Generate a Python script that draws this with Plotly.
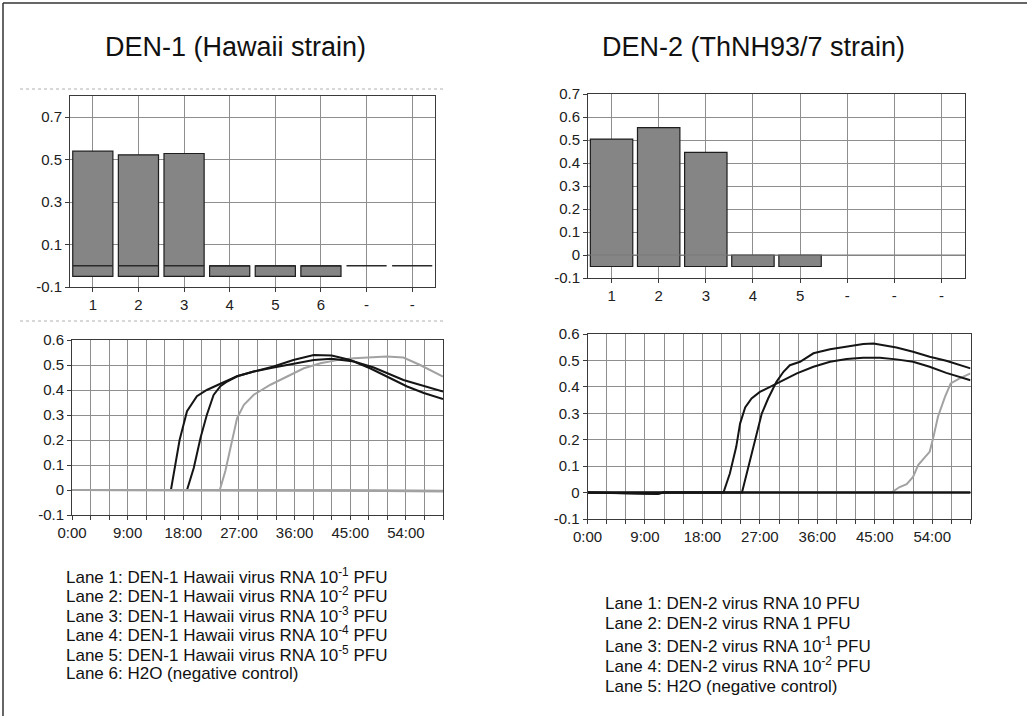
import plotly.graph_objects as go

W, H = 1027, 716
FONT = "Liberation Sans, Arial, sans-serif"


def fx(px):
    return px / W


def fy(py):
    return 1 - py / H


# ---------------- data ----------------
TITLE_1 = "DEN-1 (Hawaii strain)"
TITLE_2 = "DEN-2 (ThNH93/7 strain)"

BAR_LANES_1 = ["1", "2", "3", "4", "5", "6", "-", "-"]
BAR_VALUES_1 = [0.54, 0.523, 0.529, 0.0, 0.0, 0.0, None, None]
BAR_LANES_2 = ["1", "2", "3", "4", "5", "-", "-", "-"]
BAR_VALUES_2 = [0.504, 0.554, 0.446, 0.0, 0.0, None, None, None]
BAR_BASE = -0.05

BAR1_YTICKS = [-0.1, 0.1, 0.3, 0.5, 0.7]
BAR2_YTICKS = [-0.1, 0.0, 0.1, 0.2, 0.3, 0.4, 0.5, 0.6, 0.7]
LINE_YTICKS = [-0.1, 0.0, 0.1, 0.2, 0.3, 0.4, 0.5, 0.6]
TIME_TICKS = [0, 9, 18, 27, 36, 45, 54]
TIME_LABELS = ["0:00", "9:00", "18:00", "27:00", "36:00", "45:00", "54:00"]

# DEN-1 amplification curves (time, value)
D1_L1_T = [0, 16.0, 17.4, 18.6, 20.2, 21.8, 24.0, 26.7, 29.4, 32.6, 35.8, 39.1, 42.0, 45.0, 48.2, 50.9, 54.2, 56.9, 60]
D1_L1_V = [0, 0, 0.2, 0.315, 0.375, 0.40, 0.425, 0.455, 0.474, 0.494, 0.52, 0.54, 0.538, 0.52, 0.487, 0.454, 0.414, 0.388, 0.364]
D1_L2_T = [0, 18.6, 19.7, 20.8, 21.8, 22.9, 24.0, 25.1, 26.7, 29.4, 32.6, 35.8, 39.1, 42.0, 45.6, 48.8, 53.6, 60]
D1_L2_V = [0, 0, 0.089, 0.21, 0.30, 0.38, 0.415, 0.434, 0.455, 0.474, 0.49, 0.505, 0.52, 0.525, 0.514, 0.49, 0.44, 0.394]
D1_L3_T = [0, 23.9, 24.8, 25.9, 26.7, 27.8, 29.4, 32.1, 34.8, 37.5, 40.2, 42.9, 45.6, 48.2, 50.9, 53.6, 56.3, 60]
D1_L3_V = [0, 0, 0.076, 0.195, 0.288, 0.341, 0.381, 0.421, 0.454, 0.487, 0.507, 0.52, 0.527, 0.53, 0.534, 0.53, 0.50, 0.454]
D1_FLAT_T = [0, 30, 45, 60]
D1_L4_V = [0, 0, -0.002, -0.004]
D1_L5_V = [0, 0, -0.003, -0.006]
D1_L6_V = [0, 0.001, -0.001, -0.003]

# DEN-2 amplification curves
D2_L1_T = [0, 21.3, 22.3, 23.3, 23.9, 24.7, 25.7, 27.0, 28.6, 30.2, 32.8, 35.4, 38.0, 40.6, 43.2, 45.8, 48.4, 51.0, 53.6, 56.2, 60]
D2_L1_V = [0, 0, 0.072, 0.173, 0.261, 0.322, 0.356, 0.381, 0.40, 0.419, 0.451, 0.476, 0.495, 0.505, 0.51, 0.51, 0.504, 0.495, 0.476, 0.453, 0.425]
D2_L2_T = [0, 24.2, 25.2, 26.2, 27.3, 28.3, 29.6, 30.7, 31.7, 33.3, 35.4, 38.0, 40.6, 43.2, 44.8, 46.3, 48.4, 51.0, 53.6, 56.2, 60]
D2_L2_V = [0, 0, 0.097, 0.198, 0.299, 0.356, 0.419, 0.457, 0.482, 0.495, 0.527, 0.542, 0.552, 0.562, 0.564, 0.558, 0.549, 0.533, 0.514, 0.499, 0.47]
D2_L3_T = [0, 47.6, 48.9, 50.0, 51.0, 51.8, 52.9, 53.6, 54.2, 54.9, 56.0, 56.9, 58.3, 60]
D2_L3_V = [0, 0, 0.021, 0.032, 0.059, 0.104, 0.135, 0.154, 0.211, 0.287, 0.362, 0.413, 0.432, 0.451]
D2_FLAT_T = [0, 10.3, 11.0, 11.9, 60]
D2_L4_V = [0, -0.003, -0.005, 0, 0]
D2_L5_V = [0, -0.002, -0.004, 0, 0]

LEGEND_1 = [
    "Lane 1: DEN-1 Hawaii virus RNA 10<sup>-1</sup> PFU",
    "Lane 2: DEN-1 Hawaii virus RNA 10<sup>-2</sup> PFU",
    "Lane 3: DEN-1 Hawaii virus RNA 10<sup>-3</sup> PFU",
    "Lane 4: DEN-1 Hawaii virus RNA 10<sup>-4</sup> PFU",
    "Lane 5: DEN-1 Hawaii virus RNA 10<sup>-5</sup> PFU",
    "Lane 6: H2O (negative control)",
]
LEGEND_2 = [
    "Lane 1: DEN-2 virus RNA 10 PFU",
    "Lane 2: DEN-2 virus RNA 1 PFU",
    "Lane 3: DEN-2 virus RNA 10<sup>-1</sup> PFU",
    "Lane 4: DEN-2 virus RNA 10<sup>-2</sup> PFU",
    "Lane 5: H2O (negative control)",
]

# ---------------- styles ----------------
GRID = "#8e8e8e"
FRAME = "#3a3a3a"
BAR_FILL = "#858585"
BLACK = "#151515"
GRAY = "#a2a2a2"

fig = go.Figure()

# ---- bar chart 1 ----
pos1 = list(range(1, len(BAR_LANES_1) + 1))
fig.add_trace(go.Bar(
    x=pos1, y=[None if v is None else v - BAR_BASE for v in BAR_VALUES_1], base=BAR_BASE,
    width=0.88, marker=dict(color=BAR_FILL, line=dict(color="#1e1e1e", width=1.2)),
    xaxis="x", yaxis="y", showlegend=False))
zx, zy = [], []
for p in pos1:
    zx += [p - 0.44, p + 0.44, None]
    zy += [0, 0, None]
fig.add_trace(go.Scatter(x=zx, y=zy, mode="lines", line=dict(color="#2a2a2a", width=1.5),
                         xaxis="x", yaxis="y", showlegend=False, hoverinfo="skip"))

# ---- bar chart 2 ----
pos2 = list(range(1, len(BAR_LANES_2) + 1))
fig.add_trace(go.Bar(
    x=pos2, y=[None if v is None else v - BAR_BASE for v in BAR_VALUES_2], base=BAR_BASE,
    width=0.9, marker=dict(color=BAR_FILL, line=dict(color="#1e1e1e", width=1.2)),
    xaxis="x2", yaxis="y2", showlegend=False))

# ---- line chart 1 ----
for t, v, c, w in [
    (D1_L3_T, D1_L3_V, GRAY, 2),
    (D1_L2_T, D1_L2_V, BLACK, 2),
    (D1_L1_T, D1_L1_V, BLACK, 2),
    (D1_FLAT_T, D1_L4_V, GRAY, 2),
    (D1_FLAT_T, D1_L5_V, GRAY, 2),
    (D1_FLAT_T, D1_L6_V, GRAY, 2),
]:
    fig.add_trace(go.Scatter(x=t, y=v, mode="lines", line=dict(color=c, width=w),
                             xaxis="x3", yaxis="y3", showlegend=False))

# ---- line chart 2 ----
for t, v, c, w in [
    (D2_L3_T, D2_L3_V, GRAY, 2),
    (D2_L1_T, D2_L1_V, BLACK, 2),
    (D2_L2_T, D2_L2_V, BLACK, 2),
    (D2_FLAT_T, D2_L4_V, BLACK, 2),
    (D2_FLAT_T, D2_L5_V, BLACK, 2),
]:
    fig.add_trace(go.Scatter(x=t, y=v, mode="lines", line=dict(color=c, width=w),
                             xaxis="x4", yaxis="y4", showlegend=False))

tickfont = dict(family=FONT, size=15, color="#202020")


def ax(domain, anchor, **kw):
    d = dict(domain=domain, anchor=anchor, showline=True, mirror=True, linecolor=FRAME,
             linewidth=1, showgrid=True, gridcolor=GRID, gridwidth=1, zeroline=False,
             ticks="outside", ticklen=4, tickcolor=FRAME, tickfont=tickfont, fixedrange=True,
             automargin=False)
    d.update(kw)
    return d


fig.update_layout(
    width=W, height=H, margin=dict(l=0, r=0, t=0, b=0, pad=0, autoexpand=False),
    paper_bgcolor="white", plot_bgcolor="white", bargap=0, showlegend=False,
    xaxis=ax([fx(70), fx(435)], "y", range=[0.5, len(BAR_LANES_1) + 0.5],
             tickmode="array", tickvals=pos1, ticktext=BAR_LANES_1),
    yaxis=ax([fy(287), fy(96)], "x", range=[-0.1, 0.8], tickmode="array",
             tickvals=BAR1_YTICKS, ticktext=[f"{v:g}" for v in BAR1_YTICKS]),
    xaxis2=ax([fx(588), fx(965)], "y2", range=[0.5, len(BAR_LANES_2) + 0.5],
              tickmode="array", tickvals=pos2, ticktext=BAR_LANES_2),
    yaxis2=ax([fy(278), fy(94)], "x2", range=[-0.1, 0.7], tickmode="array",
              tickvals=BAR2_YTICKS, ticktext=[f"{v:g}" for v in BAR2_YTICKS]),
    xaxis3=ax([fx(72), fx(443)], "y3", range=[0, 60], tickmode="array",
              tickvals=TIME_TICKS, ticktext=TIME_LABELS,
              minor=dict(tick0=0, dtick=3, showgrid=True, gridcolor=GRID, ticks="outside",
                         ticklen=4, tickcolor=FRAME)),
    yaxis3=ax([fy(515), fy(340)], "x3", range=[-0.1, 0.6], tickmode="array",
              tickvals=LINE_YTICKS, ticktext=[f"{v:g}" for v in LINE_YTICKS]),
    xaxis4=ax([fx(587.5), fx(970.5)], "y4", range=[0, 60], tickmode="array",
              tickvals=TIME_TICKS, ticktext=TIME_LABELS,
              minor=dict(tick0=0, dtick=3, showgrid=True, gridcolor=GRID, ticks="outside",
                         ticklen=4, tickcolor=FRAME)),
    yaxis4=ax([fy(519), fy(334)], "x4", range=[-0.1, 0.6], tickmode="array",
              tickvals=LINE_YTICKS, ticktext=[f"{v:g}" for v in LINE_YTICKS]),
)

shapes = [
    # outer frame (top and left)
    dict(type="line", xref="paper", yref="paper", x0=fx(3), x1=1, y0=fy(3), y1=fy(3),
         line=dict(color="#333", width=1.5)),
    dict(type="line", xref="paper", yref="paper", x0=fx(3), x1=fx(3), y0=fy(3), y1=0,
         line=dict(color="#333", width=1.5)),
    # dotted pane separators on the left
    dict(type="line", xref="paper", yref="paper", x0=fx(20), x1=fx(445), y0=fy(89), y1=fy(89),
         line=dict(color="#b0b0b0", width=1, dash="dot")),
    dict(type="line", xref="paper", yref="paper", x0=fx(20), x1=fx(443), y0=fy(321), y1=fy(321),
         line=dict(color="#b0b0b0", width=1, dash="dot")),
    # zero line on right bar chart, above bars
    dict(type="line", xref="x2 domain", yref="y2", x0=0, x1=1, y0=0, y1=0, layer="above",
         line=dict(color="#7a7a7a", width=1.2)),
]
fig.update_layout(shapes=shapes)

ann = [
    dict(text=TITLE_1, x=fx(235), y=fy(47), xref="paper", yref="paper", showarrow=False,
         xanchor="center", yanchor="middle", font=dict(family=FONT, size=27, color="#111")),
    dict(text=TITLE_2, x=fx(753), y=fy(47), xref="paper", yref="paper", showarrow=False,
         xanchor="center", yanchor="middle", font=dict(family=FONT, size=27, color="#111")),
]
for i, s in enumerate(LEGEND_1):
    ann.append(dict(text=s, x=fx(64), y=fy(576 + 19.4 * i), xref="paper", yref="paper",
                    showarrow=False, xanchor="left", yanchor="middle",
                    font=dict(family=FONT, size=17, color="#111")))
for i, s in enumerate(LEGEND_2):
    ann.append(dict(text=s, x=fx(603), y=fy(603 + 20.8 * i), xref="paper", yref="paper",
                    showarrow=False, xanchor="left", yanchor="middle",
                    font=dict(family=FONT, size=17, color="#111")))
fig.update_layout(annotations=ann)

fig.write_html(
    "out.html",
    config={"displayModeBar": False, "staticPlot": True},
    post_script="document.body.style.margin='0px';document.body.style.overflow='hidden';",
)
